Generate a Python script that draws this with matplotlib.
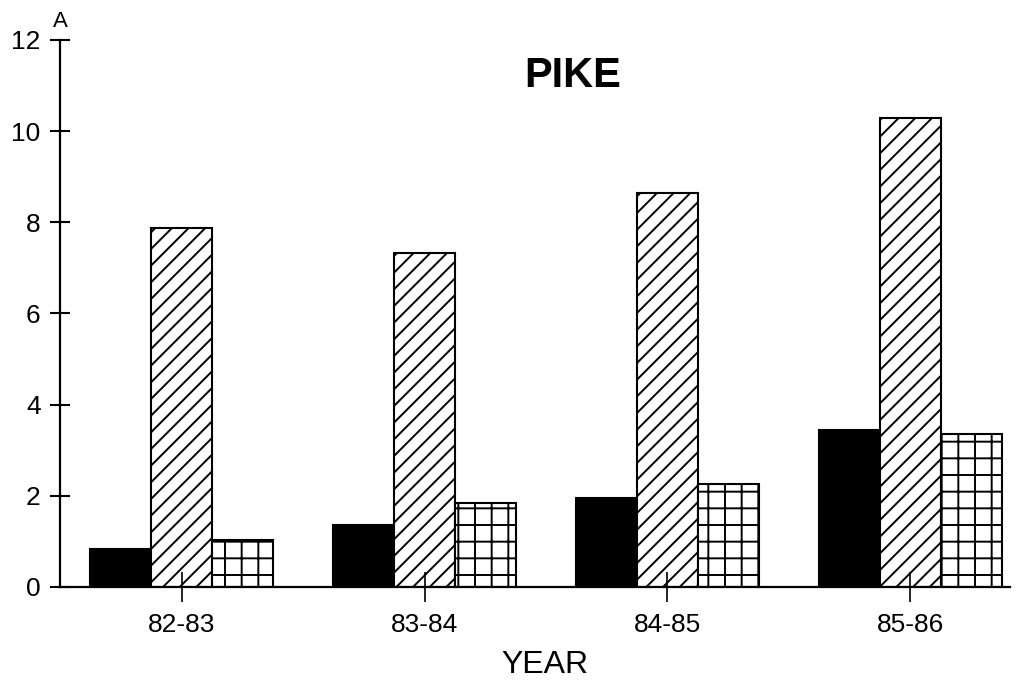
import numpy as np
import matplotlib.pyplot as plt

plt.rcParams['font.family'] = ['Liberation Sans', 'DejaVu Sans']
plt.rcParams['hatch.linewidth'] = 1.4

years = ['82-83', '83-84', '84-85', '85-86']
solid = [0.83, 1.36, 1.95, 3.45]
diag = [7.87, 7.32, 8.65, 10.28]
grid = [1.03, 1.84, 2.25, 3.35]

fig = plt.figure(figsize=(10.26, 6.83), dpi=100)
ax = fig.add_axes([0.0585, 0.1406, 0.926, 0.801])

x = np.arange(len(years))
w = 0.25
ax.bar(x - w, solid, w, color='black', edgecolor='black', linewidth=1.5)
ax.bar(x, diag, w, color='white', edgecolor='black', linewidth=1.5, hatch='//')
ax.bar(x + w, grid, w, color='white', edgecolor='black', linewidth=1.5, hatch='+')

ax.set_xlim(-0.5, 3.41)
ax.set_ylim(0, 12)
ax.set_yticks([0, 2, 4, 6, 8, 10, 12])
ax.set_xticks(x)
ax.set_xticklabels(years)

for s in ['top', 'right']:
    ax.spines[s].set_visible(False)
for s in ['left', 'bottom']:
    ax.spines[s].set_linewidth(1.6)

ax.tick_params(axis='y', direction='inout', length=14, width=1.5, labelsize=19, pad=7)
ax.tick_params(axis='x', direction='inout', length=22, width=1.2, labelsize=19, pad=8)

ax.set_xlabel('YEAR', fontsize=23)
ax.xaxis.set_label_coords(0.51, -0.115)
ax.text(0.54, 0.97, 'PIKE', transform=ax.transAxes, fontsize=30,
        fontweight='bold', ha='center', va='top')
ax.text(0.0, 1.015, 'A', transform=ax.transAxes, fontsize=16, ha='center', va='bottom')

fig.savefig('out.png', dpi=100)
